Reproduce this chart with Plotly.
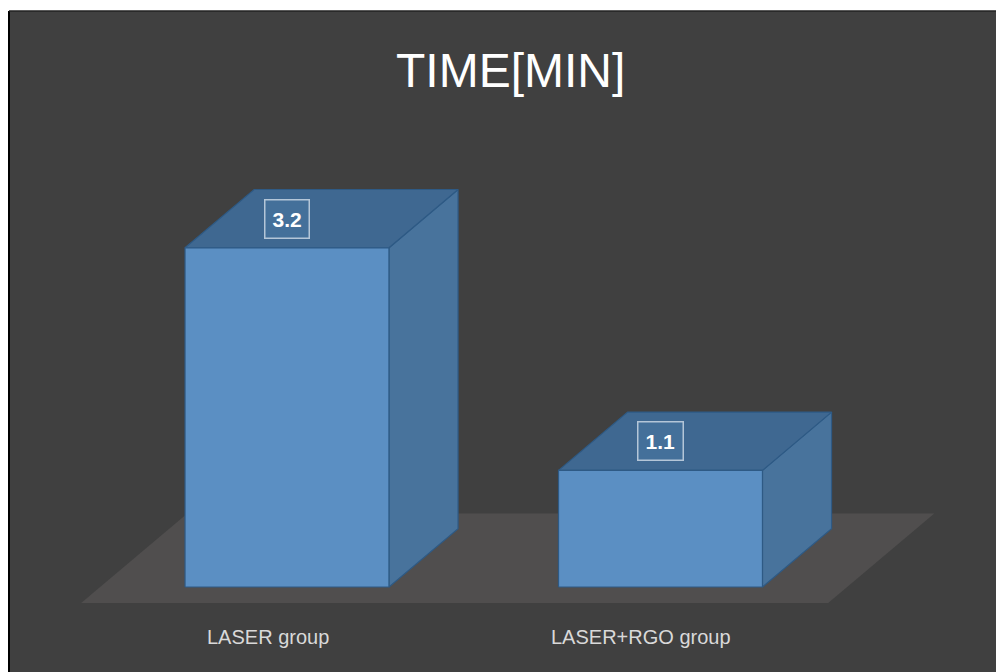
import plotly.graph_objects as go

# ---- data ----
categories = ["LASER group", "LASER+RGO group"]
values = [3.2, 1.1]
value_labels = ["3.2", "1.1"]
title_text = "TIME[MIN]"

# ---- style / oblique projection constants ----
BAR_HALF = 0.273      # half bar width (category units)
DEPTH_X = 0.185       # x shift for one full bar depth (category units)
DEPTH_Y = 0.55        # y shift for one full bar depth (value units)
FLOOR_FRONT = -0.276  # floor front, in bar-depth fractions
FLOOR_BACK = 1.26     # floor back, in bar-depth fractions

FRONT_C = "#5b8fc3"
SIDE_C = "#48739c"
TOP_C = "#3f6891"
EDGE_C = "#2e5a85"
FLOOR_C = "#504e4e"
BG_C = "#404040"
FONT = "Liberation Sans, Arial, sans-serif"


def proj(x, y, d):
    """Oblique projection: category x, value y, depth d (fraction of bar depth)."""
    return x + d * DEPTH_X, y + d * DEPTH_Y


def poly(points, color, line_color=None, width=1.2):
    xs = [p[0] for p in points] + [points[0][0]]
    ys = [p[1] for p in points] + [points[0][1]]
    return go.Scatter(
        x=xs, y=ys, mode="lines", fill="toself", fillcolor=color,
        line=dict(color=line_color or color, width=width if line_color else 0),
        hoverinfo="skip", showlegend=False,
    )


fig = go.Figure()

# floor
n = len(categories)
fx0, fx1 = -0.5, n - 0.5
floor_pts = [proj(fx0, 0, FLOOR_FRONT), proj(fx1, 0, FLOOR_FRONT),
             proj(fx1, 0, FLOOR_BACK), proj(fx0, 0, FLOOR_BACK)]
fig.add_trace(poly(floor_pts, FLOOR_C))

# bars
for i, v in enumerate(values):
    xl, xr = i - BAR_HALF, i + BAR_HALF
    side = [proj(xr, 0, 0), proj(xr, 0, 1), proj(xr, v, 1), proj(xr, v, 0)]
    top = [proj(xl, v, 0), proj(xr, v, 0), proj(xr, v, 1), proj(xl, v, 1)]
    front = [proj(xl, 0, 0), proj(xr, 0, 0), proj(xr, v, 0), proj(xl, v, 0)]
    fig.add_trace(poly(side, SIDE_C, EDGE_C))
    fig.add_trace(poly(top, TOP_C, EDGE_C))
    fig.add_trace(poly(front, FRONT_C, EDGE_C))

annotations = []
# data labels on top faces
for i, (v, lab) in enumerate(zip(values, value_labels)):
    lx, ly = i, v + DEPTH_Y * 0.5
    annotations.append(dict(
        x=lx, y=ly, xref="x", yref="y", text="<b>%s</b>" % lab, showarrow=False,
        font=dict(family=FONT, size=21, color="white"),
        bgcolor="#44709a", bordercolor="#b4c6d8", borderwidth=1.5, borderpad=7,
        xanchor="center", yanchor="middle",
    ))

# category labels at floor front
for i, c in enumerate(categories):
    cx, cy = proj(i, 0, FLOOR_FRONT)
    annotations.append(dict(
        x=cx, y=cy, xref="x", yref="y", text=c, showarrow=False,
        font=dict(family=FONT, size=20, color="#d9d9d9"),
        xanchor="center", yanchor="middle", yshift=-34,
    ))

# title
annotations.append(dict(
    x=0.5076, y=0.9107, xref="paper", yref="paper", text=title_text, showarrow=False,
    font=dict(family=FONT, size=48, color="white"),
    xanchor="center", yanchor="middle",
))

fig.update_layout(
    width=996, height=672,
    margin=dict(l=9, r=0, t=11, b=0),
    paper_bgcolor="white", plot_bgcolor=BG_C,
    xaxis=dict(range=[-0.7443, 1.8983], visible=False, fixedrange=True),
    yaxis=dict(range=[-0.8019, 5.434], visible=False, fixedrange=True),
    annotations=annotations,
    shapes=[
        dict(type="line", xref="paper", yref="paper", x0=0, x1=0, y0=0, y1=1,
             line=dict(color="black", width=2)),
        dict(type="line", xref="paper", yref="paper", x0=0, x1=1, y0=1, y1=1,
             line=dict(color="#222222", width=1.5)),
    ],
    showlegend=False,
)

fig.write_html("out.html", config={"displayModeBar": False})
